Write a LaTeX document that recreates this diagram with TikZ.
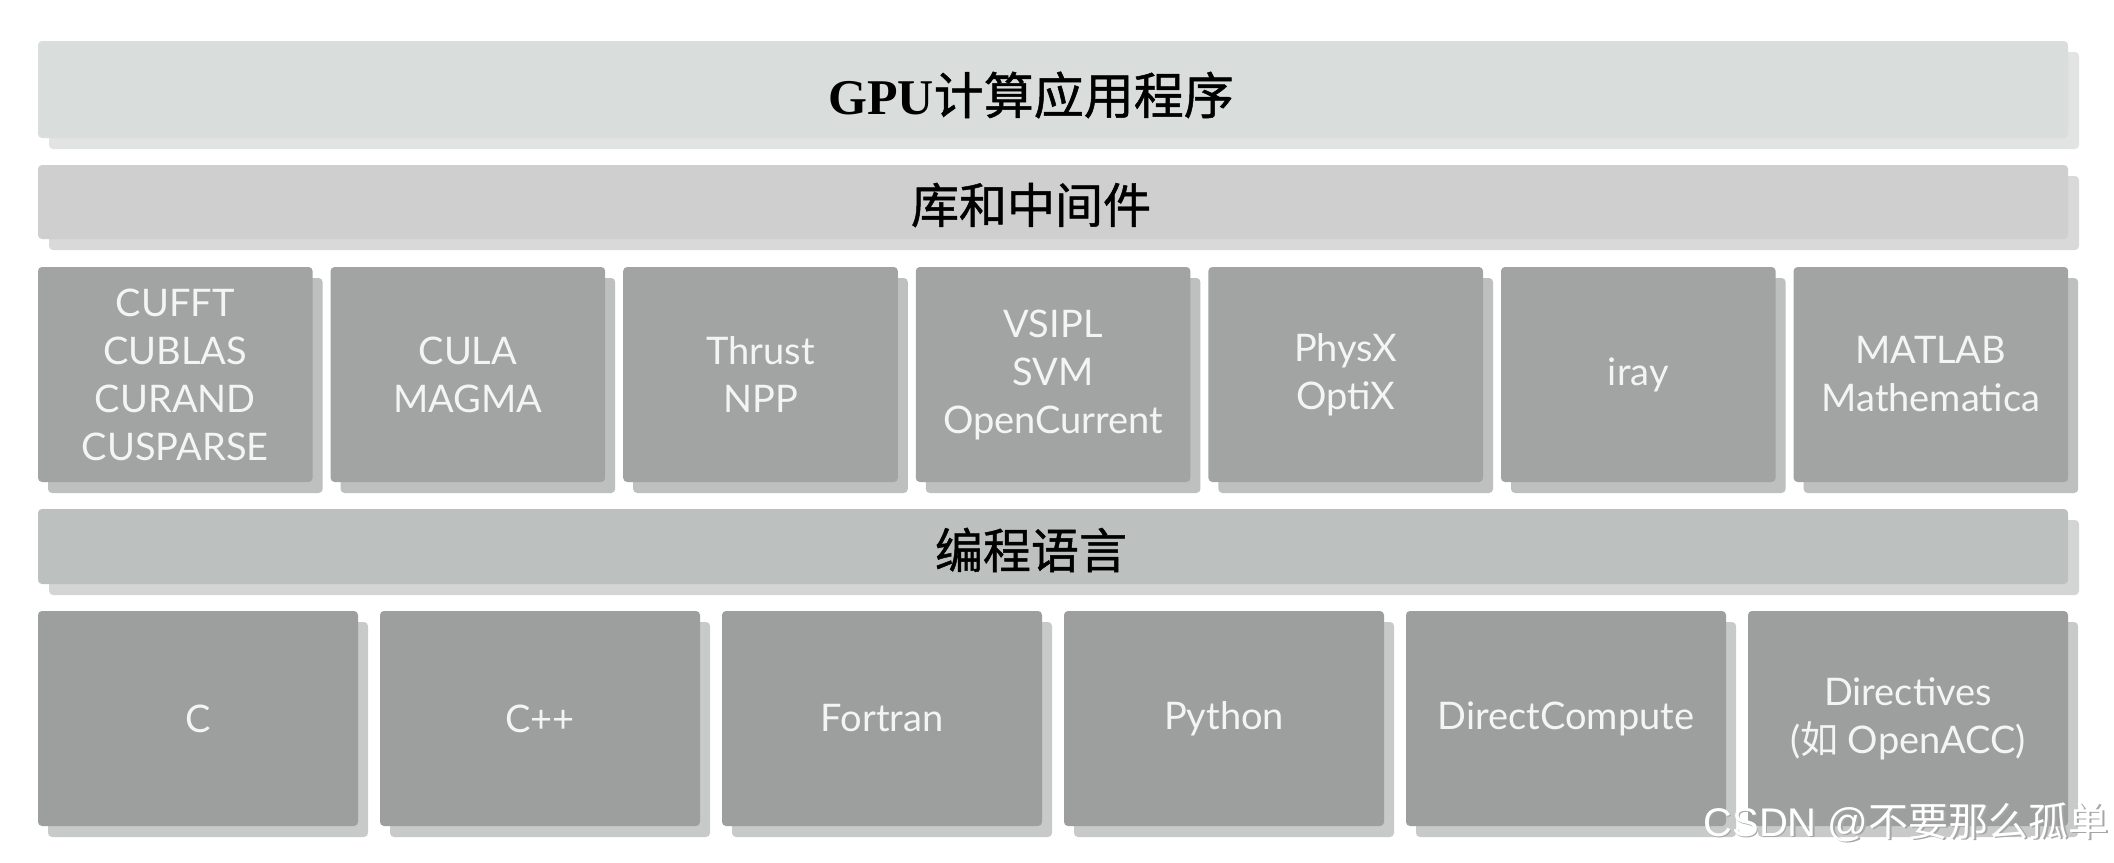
\documentclass[tikz,border=0pt]{standalone}
\usepackage{fontspec}
\usetikzlibrary{shadows}
\setmainfont{Liberation Serif}
\newfontfamily\cjk{Noto Sans CJK SC}
\newfontfamily\cjkheavy{Noto Sans CJK SC}[FakeBold=1.0]
\newfontfamily\boxfont{Lato}
\newfontfamily\wmfont{Liberation Sans}
\definecolor{topbar}{HTML}{D9DDDC}
\definecolor{topshadow}{HTML}{E2E3E3}
\definecolor{midbar}{HTML}{CFCFCF}
\definecolor{midshadow}{HTML}{D9D9D9}
\definecolor{libbox}{HTML}{A1A4A3}
\definecolor{libshadow}{HTML}{BEBFBF}
\definecolor{langbar}{HTML}{BCC0BF}
\definecolor{langbarshadow}{HTML}{D3D4D4}
\definecolor{langbox}{HTML}{9C9F9E}
\definecolor{langshadow}{HTML}{C8C9C9}
\definecolor{boxtext}{HTML}{F4F4F4}
\tikzset{
  layer/.style={rounded corners=2pt, inner sep=0pt, draw=none, minimum width=1015pt, align=center, text=black},
  topbarstyle/.style={layer, fill=topbar, minimum height=48.5pt,
    drop shadow={shadow xshift=5.5pt, shadow yshift=-5.5pt, fill=topshadow, opacity=1}},
  midbarstyle/.style={layer, fill=midbar, minimum height=37pt,
    drop shadow={shadow xshift=5.5pt, shadow yshift=-5.5pt, fill=midshadow, opacity=1}},
  langbarstyle/.style={layer, fill=langbar, minimum height=37.5pt,
    drop shadow={shadow xshift=5.5pt, shadow yshift=-5.5pt, fill=langbarshadow, opacity=1}},
  tile/.style={rounded corners=2pt, inner sep=0pt, draw=none, align=center, text=boxtext,
    font=\boxfont\fontsize{19}{24}\selectfont, minimum height=107.5pt},
  libtile/.style={tile, fill=libbox, minimum width=137.3pt,
    drop shadow={shadow xshift=5pt, shadow yshift=-5.5pt, fill=libshadow, opacity=1}},
  langtile/.style={tile, fill=langbox, minimum width=160pt,
    drop shadow={shadow xshift=5pt, shadow yshift=-5.5pt, fill=langshadow, opacity=1}},
  headtext/.style={inner sep=0pt, text=black},
}
\begin{document}
\begin{tikzpicture}[x=0.5pt,y=-0.5pt]
\useasboundingbox[fill=white] (0,0) rectangle (2114,862);
% layers
\node[topbarstyle] (app) at (1053,89.5) {};
\node[headtext, font=\fontsize{25}{30}\selectfont] (apptext) at (1031,95) {{\bfseries GPU}{\cjkheavy 计算应用程序}};
\node[midbarstyle] (lib) at (1053,202) {};
\node[headtext, font=\cjkheavy\fontsize{24}{28}\selectfont] (libtext) at (1031,205) {库和中间件};
% library tiles
\node[libtile] (l1) at (175.3,374.5) {CUFFT\\CUBLAS\\CURAND\\CUSPARSE};
\node[libtile] (l2) at (467.9,374.5) {CULA\\MAGMA};
\node[libtile] (l3) at (760.5,374.5) {Thrust\\NPP};
\node[libtile] (l4) at (1053.1,374.5) {VSIPL\\SVM\\OpenCurrent};
\node[libtile] (l5) at (1345.7,374.5) {PhysX\\OptiX};
\node[libtile] (l6) at (1638.3,374.5) {iray};
\node[libtile] (l7) at (1930.9,374.5) {MATLAB\\Mathematica};
% language bar
\node[langbarstyle] (lang) at (1053,546.5) {};
\node[headtext, font=\cjkheavy\fontsize{24}{28}\selectfont] (langtext) at (1031,550) {编程语言};
% language tiles
\node[langtile] (p1) at (198,718.5) {C};
\node[langtile] (p2) at (540,718.5) {C++};
\node[langtile] (p3) at (882,718.5) {Fortran};
\node[langtile] (p4) at (1224,718.5) {Python};
\node[langtile] (p5) at (1566,718.5) {DirectCompute};
\node[langtile] (p6) at (1908,718.5) {Directives\\({\cjk 如} OpenACC)};
% watermark
\node[text=gray!70, font=\wmfont\fontsize{20}{24}\selectfont, inner sep=0pt] (wmshadow) at (1907.5,823.5) {CSDN @{\cjk 不要那么孤单}};
\node[text=white, font=\wmfont\fontsize{20}{24}\selectfont, inner sep=0pt] (wm) at (1906,822) {CSDN @{\cjk 不要那么孤单}};
\end{tikzpicture}
\end{document}
